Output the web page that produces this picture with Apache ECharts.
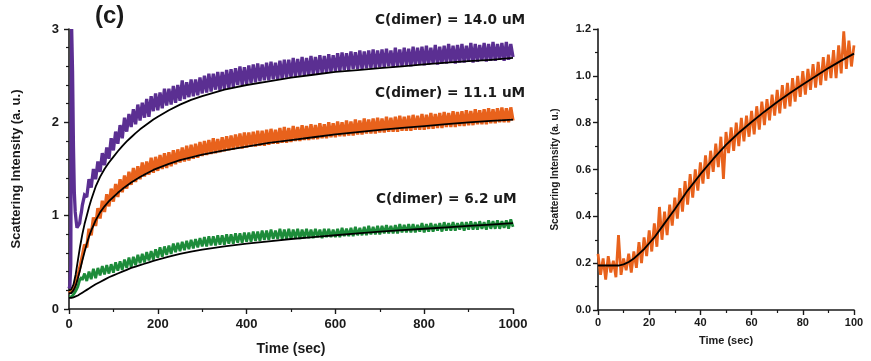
<!DOCTYPE html>
<html>
<head>
<meta charset="utf-8">
<script src="https://cdn.jsdelivr.net/npm/echarts@6/dist/echarts.min.js"></script>
<style>
html,body{margin:0;padding:0;background:#fff;}
#chart{width:871px;height:361px;}
</style>
</head>
<body>
<div id="chart"></div>
<script>
// Time samples (s) for the three long kinetic traces
const leftTime = [0,2,4,6,8,10,12,14,16,18,20,22,24,26,28,30,
35,40,45,50,55,60,65,70,75,80,85,90,95,100,105,110,115,120,125,130,135,140,145,150,155,160,165,170,175,180,185,190,195,200,
205,210,215,220,225,230,235,240,245,250,255,260,265,270,275,280,285,290,295,300,305,310,315,320,325,330,335,340,345,350,355,360,365,370,375,380,385,390,395,400,
405,410,415,420,425,430,435,440,445,450,455,460,465,470,475,480,485,490,495,500,505,510,515,520,525,530,535,540,545,550,555,560,565,570,575,580,585,590,595,600,
605,610,615,620,625,630,635,640,645,650,655,660,665,670,675,680,685,690,695,700,705,710,715,720,725,730,735,740,745,750,755,760,765,770,775,780,785,790,795,800,
805,810,815,820,825,830,835,840,845,850,855,860,865,870,875,880,885,890,895,900,905,910,915,920,925,930,935,940,945,950,955,960,965,970,975,980,985,990,995,1000];

// C(dimer) = 14.0 uM
const dimer140 = [0.22,0.25,0.48,3.00,2.55,1.75,1.25,1.04,0.95,0.87,0.85,0.89,0.92,0.99,1.04,1.11,
1.22,1.20,1.39,1.30,1.50,1.39,1.58,1.47,1.67,1.54,1.73,1.61,1.83,1.70,1.90,1.77,1.97,1.83,2.05,1.90,2.09,1.95,2.14,1.98,2.19,2.02,2.21,2.05,2.25,2.06,2.28,2.12,2.31,2.13,
2.32,2.15,2.36,2.18,2.36,2.19,2.39,2.21,2.40,2.23,2.45,2.25,2.43,2.27,2.46,2.28,2.46,2.29,2.48,2.31,2.50,2.32,2.52,2.33,2.52,2.35,2.54,2.34,2.54,2.36,2.56,2.37,2.57,2.38,2.58,2.40,2.60,2.40,2.59,2.41,
2.61,2.42,2.62,2.43,2.63,2.44,2.62,2.45,2.64,2.45,2.65,2.46,2.64,2.46,2.66,2.47,2.67,2.48,2.67,2.48,2.69,2.49,2.68,2.50,2.70,2.50,2.69,2.51,2.71,2.52,2.70,2.52,2.72,2.53,2.71,2.53,2.73,2.54,2.72,2.55,
2.74,2.55,2.75,2.56,2.74,2.56,2.76,2.57,2.75,2.57,2.77,2.57,2.76,2.58,2.77,2.58,2.78,2.58,2.77,2.59,2.78,2.59,2.79,2.60,2.77,2.59,2.80,2.60,2.78,2.60,2.80,2.61,2.79,2.60,2.81,2.61,2.80,2.62,2.81,2.61,
2.82,2.62,2.80,2.63,2.83,2.62,2.81,2.63,2.82,2.63,2.84,2.64,2.82,2.63,2.83,2.64,2.84,2.64,2.82,2.65,2.85,2.64,2.84,2.65,2.83,2.66,2.85,2.65,2.84,2.66,2.86,2.66,2.84,2.67,2.85,2.66,2.86,2.67,2.84,2.70];

// C(dimer) = 11.1 uM
const dimer111 = [0.17,0.18,0.16,0.19,0.18,0.21,0.22,0.26,0.28,0.33,0.34,0.40,0.41,0.48,0.49,0.57,
0.69,0.66,0.86,0.79,0.98,0.89,1.08,0.97,1.16,1.04,1.23,1.10,1.29,1.15,1.34,1.20,1.39,1.25,1.43,1.29,1.47,1.33,1.51,1.36,1.53,1.39,1.57,1.42,1.58,1.44,1.62,1.46,1.63,1.48,
1.65,1.50,1.67,1.51,1.68,1.53,1.70,1.55,1.71,1.57,1.73,1.58,1.75,1.59,1.76,1.61,1.77,1.62,1.79,1.64,1.80,1.65,1.81,1.66,1.83,1.67,1.82,1.68,1.84,1.69,1.85,1.70,1.86,1.71,1.87,1.72,1.88,1.72,1.89,1.73,
1.89,1.74,1.90,1.74,1.91,1.75,1.91,1.75,1.92,1.76,1.93,1.77,1.92,1.77,1.94,1.78,1.95,1.78,1.94,1.79,1.96,1.80,1.95,1.80,1.97,1.81,1.96,1.81,1.98,1.82,1.97,1.82,1.99,1.83,1.98,1.83,2.00,1.84,1.99,1.84,
2.01,1.85,2.00,1.85,2.02,1.86,2.01,1.86,2.03,1.87,2.02,1.87,2.04,1.88,2.03,1.88,2.04,1.88,2.05,1.89,2.04,1.89,2.06,1.90,2.05,1.90,2.06,1.90,2.07,1.91,2.06,1.91,2.07,1.91,2.08,1.92,2.07,1.92,2.09,1.92,
2.08,1.93,2.10,1.93,2.09,1.94,2.10,1.94,2.11,1.95,2.10,1.95,2.12,1.95,2.11,1.96,2.12,1.96,2.13,1.97,2.12,1.97,2.14,1.98,2.13,1.98,2.14,1.98,2.15,1.99,2.14,1.99,2.15,2.00,2.16,2.00,2.15,2.00,2.16,2.02];

// C(dimer) = 6.2 uM
const dimer62 = [0.13,0.12,0.14,0.13,0.15,0.14,0.17,0.16,0.20,0.19,0.24,0.26,0.31,0.29,0.34,0.31,
0.38,0.30,0.40,0.32,0.43,0.33,0.44,0.36,0.46,0.37,0.47,0.38,0.48,0.39,0.50,0.41,0.51,0.42,0.53,0.44,0.55,0.45,0.56,0.47,0.58,0.49,0.59,0.50,0.61,0.52,0.62,0.53,0.64,0.55,
0.66,0.56,0.67,0.58,0.68,0.59,0.70,0.61,0.71,0.62,0.72,0.63,0.73,0.64,0.74,0.65,0.75,0.66,0.76,0.67,0.77,0.67,0.78,0.68,0.78,0.68,0.79,0.69,0.79,0.69,0.80,0.70,0.80,0.70,0.81,0.71,0.81,0.71,0.82,0.72,
0.82,0.72,0.83,0.73,0.83,0.73,0.84,0.74,0.84,0.74,0.85,0.75,0.84,0.75,0.86,0.75,0.85,0.75,0.86,0.75,0.85,0.76,0.86,0.75,0.85,0.76,0.86,0.76,0.85,0.76,0.86,0.77,0.85,0.76,0.86,0.77,0.86,0.77,0.85,0.77,
0.86,0.77,0.87,0.78,0.86,0.78,0.87,0.78,0.88,0.79,0.87,0.79,0.88,0.79,0.89,0.80,0.88,0.80,0.89,0.80,0.89,0.81,0.90,0.81,0.89,0.81,0.90,0.81,0.91,0.82,0.90,0.82,0.91,0.82,0.91,0.82,0.90,0.83,0.92,0.82,
0.91,0.83,0.92,0.83,0.91,0.84,0.92,0.83,0.93,0.84,0.92,0.84,0.93,0.84,0.92,0.85,0.93,0.84,0.93,0.85,0.94,0.85,0.93,0.85,0.94,0.86,0.93,0.85,0.95,0.86,0.94,0.86,0.95,0.86,0.94,0.87,0.95,0.86,0.96,0.88];

// Fitted curves for the long traces
const fitTime = [0,5,10,15,20,25,30,35,40,45,50,60,70,80,90,100,110,120,130,140,150,160,170,180,190,200,225,250,275,300,350,400,450,500,550,600,650,700,750,800,850,900,950,1000];
const fit140 = [0.20,0.21,0.26,0.37,0.52,0.67,0.80,0.91,1.00,1.09,1.17,1.31,1.415,1.50,1.57,1.63,1.69,1.745,1.795,1.84,1.885,1.925,1.96,1.995,2.03,2.06,2.13,2.19,2.24,2.28,2.35,2.40,2.44,2.48,2.51,2.54,2.56,2.58,2.60,2.62,2.64,2.655,2.67,2.69];
const fit111 = [0.17,0.17,0.20,0.25,0.33,0.42,0.52,0.61,0.70,0.775,0.84,0.95,1.035,1.10,1.155,1.20,1.245,1.285,1.32,1.355,1.385,1.415,1.44,1.465,1.49,1.51,1.555,1.595,1.625,1.655,1.70,1.74,1.78,1.81,1.84,1.87,1.895,1.92,1.94,1.96,1.98,2.00,2.015,2.03];
const fit62 = [0.12,0.12,0.125,0.135,0.145,0.16,0.175,0.19,0.205,0.22,0.235,0.265,0.29,0.315,0.34,0.36,0.38,0.40,0.42,0.44,0.455,0.47,0.485,0.50,0.515,0.53,0.56,0.59,0.615,0.635,0.67,0.70,0.725,0.75,0.77,0.79,0.81,0.83,0.845,0.86,0.875,0.89,0.905,0.92];

// Early-time trace (first 100 s)
const shortTime = [0,1,2,3,4,5,6,7,8,9,10,11,12,13,14,15,16,17,18,19,20,21,22,23,24,25,26,27,28,29,30,31,32,33,34,35,36,37,38,39,40,41,42,43,44,45,46,47,48,49,50,
51,52,53,54,55,56,57,58,59,60,61,62,63,64,65,66,67,68,69,70,71,72,73,74,75,76,77,78,79,80,81,82,83,84,85,86,87,88,89,90,91,92,93,94,95,96,97,98,99,100];
const shortTrace = [0.24,0.15,0.22,0.13,0.23,0.16,0.21,0.14,0.32,0.15,0.22,0.17,0.24,0.16,0.25,0.18,0.29,0.20,0.31,0.23,0.34,0.25,0.37,0.27,0.44,0.30,0.42,0.32,0.45,0.36,0.48,
0.39,0.52,0.42,0.55,0.45,0.58,0.48,0.60,0.51,0.63,0.54,0.66,0.56,0.68,0.59,0.71,0.61,0.74,0.56,0.76,0.67,0.78,0.68,0.80,0.70,0.82,0.72,0.83,0.74,0.85,
0.75,0.87,0.77,0.89,0.79,0.90,0.81,0.92,0.83,0.94,0.84,0.96,0.86,0.97,0.87,0.99,0.89,1.00,0.91,1.02,0.92,1.03,0.94,1.05,0.95,1.06,0.96,1.08,0.98,1.09,
0.99,1.11,0.99,1.13,1.01,1.19,1.03,1.15,1.04,1.13];
const shortFitTime = [0,2,4,6,8,10,12,14,16,18,20,22,24,26,28,30,35,40,45,50,55,60,65,70,75,80,85,90,95,100];
const shortFit = [0.19,0.19,0.19,0.19,0.19,0.195,0.205,0.22,0.24,0.26,0.285,0.31,0.34,0.37,0.40,0.43,0.51,0.58,0.645,0.705,0.757,0.803,0.847,0.888,0.927,0.963,0.998,1.033,1.065,1.095];

// Axis ranges: [min, max, major step]
const leftTicks = {x: [0, 1000, 200], y: [0, 3, 1]};
const rightTicks = {x: [0, 100, 20], y: [0, 1.2, 0.2]};

const pair = (xs, ys) => xs.map((x, i) => [x, ys[i]]);

const FONT = 'Liberation Sans, Arial, sans-serif';
const INK = '#1a1a1a';
const PURPLE = '#5b2f92';
const ORANGE = '#e8621c';
const GREEN = '#1d8c3a';

function axisBase(fontSize) {
  return {
    axisLine: {show: true, onZero: false, lineStyle: {color: INK, width: 1.6}},
    axisTick: {show: true, inside: false, length: 5, lineStyle: {color: INK, width: 1.4}},
    minorTick: {show: true, length: 3, lineStyle: {color: INK, width: 1.2}},
    splitLine: {show: false},
    minorSplitLine: {show: false},
    axisLabel: {color: INK, fontFamily: FONT, fontWeight: 'bold', fontSize: fontSize},
    nameTextStyle: {color: INK, fontFamily: FONT, fontWeight: 'bold'}
  };
}

function deep(a, b) {
  const out = JSON.parse(JSON.stringify(a));
  for (const k in b) {
    if (b[k] && typeof b[k] === 'object' && !Array.isArray(b[k]) && out[k] && typeof out[k] === 'object') {
      out[k] = Object.assign({}, out[k], b[k]);
    } else out[k] = b[k];
  }
  return out;
}

const noisy = (name, xi, yi, data, color, w) => ({
  name, type: 'line', xAxisIndex: xi, yAxisIndex: yi, data,
  showSymbol: false, symbol: 'none', animation: false, clip: true,
  lineStyle: {color, width: w, join: 'miter', miterLimit: 2}, z: 2
});
const fitLine = (name, xi, yi, data) => ({
  name, type: 'line', xAxisIndex: xi, yAxisIndex: yi, data,
  showSymbol: false, symbol: 'none', animation: false, smooth: false,
  lineStyle: {color: '#000', width: 1.8, join: 'round'}, z: 5
});

const chart = echarts.init(document.getElementById('chart'), null, {renderer: 'canvas'});
chart.setOption({
  backgroundColor: '#fff',
  animation: false,
  grid: [
    {left: 69, right: 358, top: 29, bottom: 52},
    {left: 598, right: 17, top: 29, bottom: 51}
  ],
  xAxis: [
    deep(axisBase(13), {gridIndex: 0, type: 'value', min: leftTicks.x[0], max: leftTicks.x[1], interval: leftTicks.x[2],
      minorTick: {splitNumber: 2}, name: 'Time (sec)', nameLocation: 'middle', nameGap: 33,
      nameTextStyle: {fontSize: 14}, axisLabel: {margin: 9, formatter: v => String(v)}}),
    deep(axisBase(11), {gridIndex: 1, type: 'value', min: rightTicks.x[0], max: rightTicks.x[1], interval: rightTicks.x[2],
      minorTick: {splitNumber: 2}, name: 'Time (sec)', nameLocation: 'middle', nameGap: 25,
      nameTextStyle: {fontSize: 11}, axisLabel: {margin: 7, formatter: v => String(v)}})
  ],
  yAxis: [
    deep(axisBase(13), {gridIndex: 0, type: 'value', min: leftTicks.y[0], max: leftTicks.y[1], interval: leftTicks.y[2],
      minorTick: {splitNumber: 5}, name: 'Scattering Intensity (a. u.)', nameLocation: 'middle', nameGap: 46,
      nameTextStyle: {fontSize: 13}, axisLabel: {margin: 10}}),
    deep(axisBase(11), {gridIndex: 1, type: 'value', min: rightTicks.y[0], max: rightTicks.y[1], interval: rightTicks.y[2],
      minorTick: {splitNumber: 2}, name: 'Scattering Intensity (a. u.)', nameLocation: 'middle', nameGap: 38,
      nameTextStyle: {fontSize: 10}, axisLabel: {margin: 7, formatter: v => v.toFixed(1)}})
  ],
  series: [
    noisy('14.0 uM', 0, 0, pair(leftTime, dimer140), PURPLE, 3.3),
    noisy('11.1 uM', 0, 0, pair(leftTime, dimer111), ORANGE, 3.3),
    noisy('6.2 uM', 0, 0, pair(leftTime, dimer62), GREEN, 2.8),
    fitLine('fit 14.0', 0, 0, pair(fitTime, fit140)),
    fitLine('fit 11.1', 0, 0, pair(fitTime, fit111)),
    fitLine('fit 6.2', 0, 0, pair(fitTime, fit62)),
    noisy('early', 1, 1, pair(shortTime, shortTrace), ORANGE, 2.8),
    fitLine('early fit', 1, 1, pair(shortFitTime, shortFit))
  ],
  graphic: [
    {type: 'text', left: 95, top: 4, style: {text: '(c)', font: 'bold 24px ' + FONT, fill: INK}},
    {type: 'text', left: 375, top: 13, style: {text: 'C(dimer) = 14.0 uM', font: 'bold 13.7px DejaVu Sans, sans-serif', fill: INK}},
    {type: 'text', left: 375, top: 86, style: {text: 'C(dimer) = 11.1 uM', font: 'bold 13.7px DejaVu Sans, sans-serif', fill: INK}},
    {type: 'text', left: 376, top: 192, style: {text: 'C(dimer) = 6.2 uM', font: 'bold 13.7px DejaVu Sans, sans-serif', fill: INK}}
  ]
});
</script>
</body>
</html>
